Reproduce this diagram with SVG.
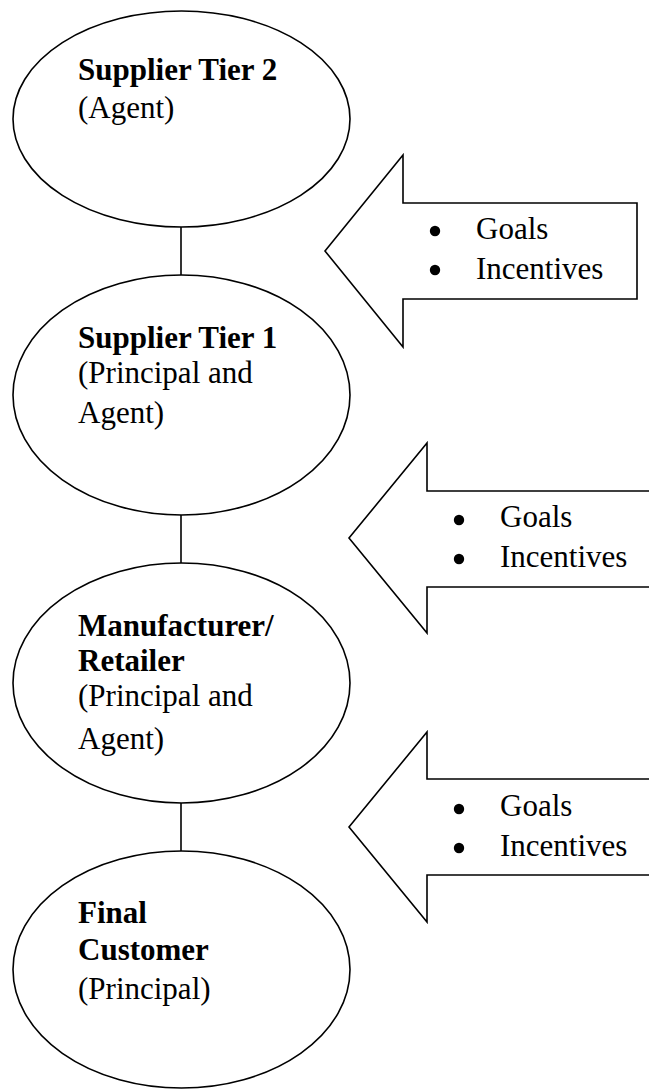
<svg xmlns="http://www.w3.org/2000/svg" width="649" height="1089" viewBox="0 0 649 1089">
  <style>
    .shape { fill: #ffffff; stroke: #000000; stroke-width: 1.6; }
    .link { stroke: #000000; stroke-width: 1.6; fill: none; }
    .dot { fill: #000000; }
    text { font-family: "Liberation Serif", "Times New Roman", serif; font-size: 31px; fill: #000000; }
    .b { font-weight: bold; }
  </style>

  <rect width="649" height="1089" fill="#ffffff"/>

  <!-- vertical links between the chain members -->
  <g id="connectors">
    <line class="link" x1="181" y1="227" x2="181" y2="275"/>
    <line class="link" x1="181" y1="515" x2="181" y2="563"/>
    <line class="link" x1="181" y1="803" x2="181" y2="851"/>
  </g>

  <g id="supplier-tier-2">
    <ellipse class="shape" cx="181.5" cy="119" rx="168.5" ry="108"/>
    <text class="b" x="78" y="80">Supplier Tier 2</text>
    <text x="78" y="118">(Agent)</text>
  </g>

  <g id="supplier-tier-1">
    <ellipse class="shape" cx="181.5" cy="395" rx="168.5" ry="120"/>
    <text class="b" x="78" y="348">Supplier Tier 1</text>
    <text x="78" y="383">(Principal and</text>
    <text x="78" y="423">Agent)</text>
  </g>

  <g id="manufacturer-retailer">
    <ellipse class="shape" cx="181.5" cy="683" rx="168.5" ry="120"/>
    <text class="b" x="78" y="636">Manufacturer/</text>
    <text class="b" x="78" y="671">Retailer</text>
    <text x="78" y="706">(Principal and</text>
    <text x="78" y="749">Agent)</text>
  </g>

  <g id="final-customer">
    <ellipse class="shape" cx="181.5" cy="969.5" rx="168.5" ry="118.5"/>
    <text class="b" x="78" y="923">Final</text>
    <text class="b" x="78" y="960">Customer</text>
    <text x="78" y="999">(Principal)</text>
  </g>

  <!-- block arrows carrying goals and incentives down the chain -->
  <g id="arrow-1">
    <polygon class="shape" points="637,203 403,203 403,155 325,251 403,347 403,299 637,299"/>
    <circle class="dot" cx="435" cy="231" r="5.2"/>
    <text x="476" y="239">Goals</text>
    <circle class="dot" cx="435" cy="270" r="5.2"/>
    <text x="476" y="279">Incentives</text>
  </g>

  <g id="arrow-2">
    <polygon class="shape" points="651,491 427,491 427,443 349,538 427,633 427,587 651,587"/>
    <circle class="dot" cx="459" cy="520" r="5.2"/>
    <text x="500" y="527">Goals</text>
    <circle class="dot" cx="459" cy="559" r="5.2"/>
    <text x="500" y="567">Incentives</text>
  </g>

  <g id="arrow-3">
    <polygon class="shape" points="651,779 427,779 427,732 349,827 427,922 427,875 651,875"/>
    <circle class="dot" cx="459" cy="809" r="5.2"/>
    <text x="500" y="816">Goals</text>
    <circle class="dot" cx="459" cy="848" r="5.2"/>
    <text x="500" y="856">Incentives</text>
  </g>
</svg>
